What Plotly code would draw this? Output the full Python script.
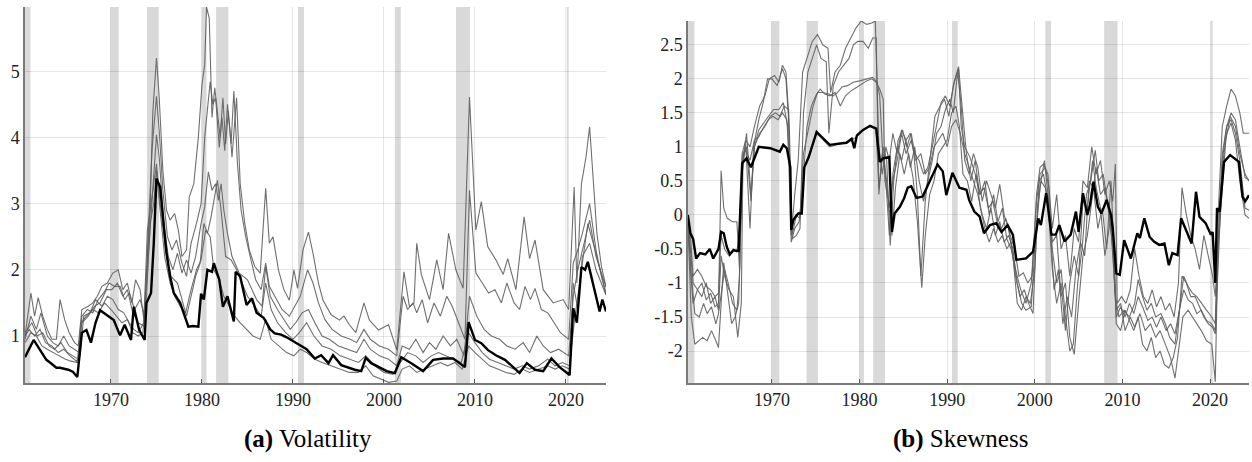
import plotly.graph_objects as go

# ---------------- data ----------------
recessions = [(1960.3, 1961.15), (1969.95, 1970.85), (1973.95, 1975.25), (1980.0, 1980.5),
              (1981.55, 1982.9), (1990.55, 1991.2), (2001.2, 2001.85), (2007.92, 2009.45),
              (2020.1, 2020.3)]

year_ticks = [1970, 1980, 1990, 2000, 2010, 2020]
vol_ticks = [1, 2, 3, 4, 5]
skew_ticks = [-2, -1.5, -1, -0.5, 0, 0.5, 1, 1.5, 2, 2.5]
skew_tick_text = ["-2", "-1.5", "-1", "-0.5", "0", "0.5", "1", "1.5", "2", "2.5"]

# Volatility: bold black aggregate
vol_black = [(1960.55, 0.68), (1961.0, 0.80), (1961.5, 0.94), (1962.2, 0.79), (1962.9, 0.64), (1963.3, 0.60),
    (1963.6, 0.56), (1964.0, 0.52), (1964.4, 0.52), (1965.0, 0.50), (1965.3, 0.49), (1965.8, 0.46),
    (1966.3, 0.38), (1966.8, 1.05), (1967.3, 1.09), (1967.8, 0.90), (1968.3, 1.20), (1968.8, 1.39),
    (1969.5, 1.32), (1970.3, 1.24), (1971.0, 1.01), (1971.5, 1.17), (1972.2, 0.94), (1972.5, 1.44),
    (1973.1, 1.09), (1973.7, 0.94), (1973.9, 1.50), (1974.4, 1.65), (1974.7, 2.40), (1975.0, 3.38),
    (1975.4, 3.25), (1975.8, 2.70), (1976.1, 2.25), (1976.5, 1.90), (1976.9, 1.65), (1977.6, 1.50),
    (1978.0, 1.35), (1978.5, 1.14), (1979.0, 1.15), (1979.6, 1.14), (1979.9, 1.64), (1980.2, 1.55),
    (1980.6, 2.00), (1981.1, 1.97), (1981.3, 2.10), (1981.9, 1.85), (1982.3, 1.44), (1982.8, 1.60),
    (1983.5, 1.22), (1983.7, 1.97), (1984.2, 1.90), (1984.9, 1.47), (1985.5, 1.57), (1986.0, 1.35),
    (1986.8, 1.27), (1987.5, 1.10), (1988.0, 1.04), (1988.7, 1.02), (1989.3, 0.98), (1989.8, 0.94),
    (1990.3, 0.90), (1990.9, 0.84), (1991.5, 0.80), (1992.4, 0.66), (1993.1, 0.71), (1993.9, 0.59),
    (1994.4, 0.71), (1995.3, 0.56), (1996.1, 0.52), (1996.8, 0.49), (1997.5, 0.47), (1998.0, 0.67),
    (1998.6, 0.59), (1999.4, 0.53), (2000.3, 0.47), (2001.2, 0.44), (2001.9, 0.68), (2003.0, 0.59),
    (2004.3, 0.47), (2005.4, 0.64), (2006.5, 0.66), (2007.6, 0.66), (2008.9, 0.53), (2009.3, 1.21),
    (2010.0, 0.94), (2010.7, 0.89), (2011.4, 0.79), (2012.3, 0.71), (2013.3, 0.64), (2014.2, 0.53),
    (2014.9, 0.44), (2015.7, 0.59), (2016.6, 0.49), (2017.5, 0.47), (2018.4, 0.66), (2019.3, 0.53),
    (2020.4, 0.41), (2020.8, 1.42), (2021.2, 1.20), (2021.7, 2.04), (2022.1, 2.00), (2022.4, 2.12),
    (2023.2, 1.65), (2023.7, 1.37), (2024.0, 1.55), (2024.4, 1.37)]

vol_a = [(1960.55, 1.0), (1961.2, 1.65), (1961.6, 1.3), (1962.0, 1.58), (1962.5, 1.3), (1963.0, 1.1),
    (1963.5, 0.95), (1964.0, 0.95), (1964.4, 1.55), (1964.9, 1.25), (1965.4, 1.05), (1966.0, 0.9),
    (1966.4, 0.85), (1966.8, 1.4), (1967.5, 1.45), (1968.0, 1.5), (1968.5, 1.6), (1969.0, 1.75),
    (1969.6, 1.8), (1970.2, 1.95), (1970.8, 2.0), (1971.3, 1.7), (1971.8, 1.8), (1972.3, 1.5),
    (1972.7, 1.85), (1973.2, 1.7), (1973.6, 1.25), (1973.9, 2.0), (1974.3, 2.9), (1974.6, 4.4),
    (1975.0, 5.2), (1975.3, 4.6), (1975.7, 3.5), (1976.1, 2.9), (1976.5, 2.75), (1977.0, 2.85),
    (1977.4, 2.6), (1977.8, 2.2), (1978.3, 2.3), (1978.6, 3.1), (1979.1, 3.3), (1979.6, 4.0),
    (1980.0, 4.8), (1980.3, 5.1), (1980.5, 5.97), (1980.8, 5.8), (1981.1, 4.3), (1981.4, 4.75),
    (1981.7, 4.4), (1982.0, 4.0), (1982.3, 4.6), (1982.6, 3.9), (1982.9, 4.4), (1983.3, 3.7),
    (1983.8, 4.6), (1984.2, 3.3), (1984.7, 2.7), (1985.2, 2.3), (1985.8, 2.05), (1986.4, 1.95),
    (1987.0, 3.23), (1987.4, 2.4), (1987.8, 2.5), (1988.4, 2.0), (1989.0, 1.7), (1989.6, 1.54),
    (1990.1, 2.0), (1990.5, 1.72), (1991.1, 2.3), (1991.7, 2.57), (1992.2, 2.25), (1992.8, 1.8),
    (1993.3, 1.54), (1994.2, 1.32), (1995.1, 1.24), (1995.6, 1.3), (1996.2, 1.17), (1996.9, 1.05),
    (1997.8, 1.5), (1998.4, 1.24), (1999.4, 1.09), (2000.5, 1.17), (2001.4, 0.79), (2002.2, 1.97),
    (2002.8, 1.44), (2003.3, 1.5), (2003.6, 2.4), (2004.1, 1.93), (2005.0, 1.55), (2005.8, 2.15),
    (2006.5, 1.7), (2007.1, 2.55), (2007.9, 2.0), (2008.7, 1.72), (2009.4, 4.61), (2010.1, 2.6),
    (2010.7, 3.03), (2011.4, 2.35), (2012.3, 2.15), (2013.1, 1.93), (2013.6, 2.17), (2014.5, 1.7),
    (2015.4, 2.8), (2016.0, 2.17), (2016.6, 2.45), (2017.5, 1.7), (2018.6, 1.5), (2019.7, 1.55),
    (2020.3, 1.4), (2020.9, 3.25), (2021.2, 1.8), (2021.7, 3.3), (2022.2, 3.7), (2022.6, 4.16),
    (2023.4, 2.55), (2023.9, 2.05), (2024.4, 1.74)]

vol_b = [(1960.55, 0.95), (1961.2, 1.3), (1961.8, 1.1), (1962.3, 1.35), (1963.0, 1.0), (1963.6, 0.9),
    (1964.2, 0.85), (1964.8, 1.0), (1965.4, 0.85), (1966.0, 0.8), (1966.5, 0.75), (1966.8, 1.3),
    (1967.4, 1.4), (1968.0, 1.35), (1968.6, 1.55), (1969.2, 1.65), (1969.8, 1.8), (1970.4, 1.75),
    (1971.0, 1.75), (1971.5, 1.55), (1972.0, 1.65), (1972.6, 1.4), (1973.2, 1.55), (1973.7, 1.3),
    (1974.0, 2.3), (1974.5, 3.8), (1975.0, 4.62), (1975.3, 4.1), (1975.7, 3.2), (1976.2, 2.5),
    (1976.7, 2.3), (1977.2, 2.45), (1977.8, 2.1), (1978.3, 1.9), (1978.8, 2.4), (1979.4, 2.7),
    (1979.9, 3.0), (1980.3, 4.0), (1980.9, 4.84), (1981.2, 4.5), (1981.5, 4.6), (1981.9, 3.85),
    (1982.2, 4.3), (1982.5, 3.8), (1982.8, 4.5), (1983.2, 3.9), (1983.5, 4.7), (1983.9, 3.6),
    (1984.3, 2.9), (1984.8, 2.5), (1985.3, 2.2), (1985.9, 1.85), (1986.5, 1.7), (1987.0, 2.1),
    (1987.4, 1.75), (1988.0, 1.6), (1988.8, 1.4), (1989.6, 1.3), (1990.2, 1.45), (1990.8, 1.6),
    (1991.6, 2.0), (1992.2, 1.8), (1992.8, 1.5), (1993.5, 1.25), (1994.3, 1.1), (1995.3, 1.0),
    (1996.3, 0.95), (1997.0, 0.9), (1997.8, 1.1), (1998.5, 0.95), (1999.5, 0.85), (2000.5, 0.8),
    (2001.4, 0.7), (2002.1, 1.6), (2002.6, 1.4), (2003.2, 1.5), (2003.6, 1.35), (2004.2, 1.55),
    (2004.8, 1.2), (2005.5, 1.5), (2006.2, 1.3), (2006.9, 1.6), (2007.5, 1.45), (2008.2, 1.2),
    (2008.9, 0.95), (2009.4, 3.2), (2010.1, 1.95), (2010.8, 1.8), (2011.5, 1.65), (2012.2, 1.7),
    (2012.9, 1.5), (2013.5, 1.8), (2014.3, 1.5), (2014.9, 1.4), (2015.5, 1.75), (2016.1, 1.55),
    (2016.6, 1.72), (2017.3, 1.4), (2018.0, 1.35), (2018.7, 1.2), (2019.4, 1.05), (2020.3, 0.95),
    (2020.8, 2.1), (2021.3, 2.3), (2021.8, 2.55), (2022.6, 3.0), (2023.3, 2.3), (2023.9, 1.9),
    (2024.4, 1.62)]

vol_c = [(1960.55, 1.05), (1961.3, 1.2), (1961.9, 1.0), (1962.5, 1.05), (1963.2, 0.85), (1963.8, 0.8),
    (1964.5, 0.9), (1965.2, 0.75), (1965.8, 0.7), (1966.4, 0.65), (1966.8, 1.2), (1967.5, 1.3),
    (1968.2, 1.45), (1968.8, 1.5), (1969.5, 1.7), (1970.1, 1.7), (1970.7, 1.8), (1971.3, 1.6),
    (1971.8, 1.7), (1972.4, 1.35), (1973.0, 1.2), (1973.6, 1.15), (1974.0, 2.0), (1974.5, 3.0),
    (1975.0, 4.04), (1975.3, 3.7), (1975.8, 2.7), (1976.3, 2.2), (1976.8, 2.0), (1977.3, 2.25),
    (1977.8, 1.95), (1978.3, 2.15), (1978.8, 1.95), (1979.3, 2.2), (1979.9, 2.7), (1980.3, 2.95),
    (1980.7, 3.48), (1981.1, 3.2), (1981.5, 3.3), (1981.8, 3.05), (1982.1, 3.3), (1982.4, 2.9),
    (1982.8, 2.55), (1983.3, 2.2), (1984.1, 1.95), (1985.0, 1.85), (1986.0, 1.55), (1986.6, 1.45),
    (1987.0, 2.05), (1987.5, 1.6), (1988.3, 1.4), (1989.0, 1.25), (1989.7, 1.1), (1990.3, 1.2),
    (1991.0, 1.35), (1991.7, 1.4), (1992.4, 1.2), (1993.2, 1.0), (1994.0, 0.95), (1995.0, 0.85),
    (1996.0, 0.8), (1997.0, 0.75), (1997.8, 0.95), (1998.5, 0.8), (1999.5, 0.7), (2000.5, 0.65),
    (2001.4, 0.55), (2002.0, 0.85), (2002.8, 0.8), (2003.5, 0.95), (2004.3, 0.75), (2005.0, 0.9),
    (2005.7, 0.8), (2006.5, 1.0), (2007.3, 0.85), (2008.0, 0.95), (2008.8, 0.7), (2009.4, 1.6),
    (2010.2, 1.3), (2011.0, 1.1), (2011.8, 1.0), (2012.7, 0.95), (2013.5, 0.85), (2014.4, 0.8),
    (2015.3, 0.9), (2016.0, 0.75), (2016.8, 1.0), (2017.5, 0.85), (2018.3, 0.75), (2019.2, 0.8),
    (2020.3, 0.7), (2020.8, 1.6), (2021.3, 2.0), (2021.8, 2.3), (2022.6, 2.75), (2023.3, 2.2),
    (2024.4, 1.74)]

vol_d = [(1960.55, 1.0), (1961.0, 1.1), (1961.6, 1.0), (1962.2, 1.1), (1962.8, 0.9), (1963.5, 0.85),
    (1964.2, 0.75), (1964.8, 0.8), (1965.5, 0.7), (1966.2, 0.62), (1966.6, 0.7), (1967.0, 1.3),
    (1967.7, 1.35), (1968.3, 1.55), (1969.0, 1.45), (1969.6, 1.6), (1970.2, 1.55), (1970.8, 1.4),
    (1971.4, 1.35), (1972.0, 1.2), (1972.5, 1.1), (1973.0, 1.05), (1973.6, 1.2), (1974.0, 2.6),
    (1974.6, 3.2), (1975.0, 3.6), (1975.4, 3.0), (1976.0, 2.3), (1976.6, 1.9), (1977.3, 1.8),
    (1977.9, 1.5), (1978.3, 1.3), (1978.8, 1.6), (1979.3, 1.9), (1979.8, 2.1), (1980.2, 2.7),
    (1980.6, 2.55), (1981.0, 2.8), (1981.7, 3.35), (1982.1, 2.9), (1982.6, 2.2), (1983.2, 2.15),
    (1983.8, 2.0), (1984.4, 1.8), (1985.0, 1.6), (1985.8, 1.45), (1986.5, 1.3), (1987.0, 1.8),
    (1987.6, 1.4), (1988.3, 1.2), (1989.2, 1.05), (1990.0, 0.95), (1990.7, 1.05), (1991.5, 1.2),
    (1992.3, 1.0), (1993.2, 0.85), (1994.2, 0.8), (1995.2, 0.7), (1996.2, 0.65), (1997.2, 0.6),
    (1998.0, 0.7), (1999.0, 0.55), (2000.0, 0.45), (2001.0, 0.42), (2001.8, 0.6), (2002.6, 0.75),
    (2003.5, 0.7), (2004.3, 0.6), (2005.2, 0.7), (2006.0, 0.75), (2006.8, 0.7), (2007.6, 0.65),
    (2008.5, 0.6), (2009.3, 1.05), (2010.0, 0.9), (2010.8, 0.75), (2011.6, 0.65), (2012.5, 0.6),
    (2013.4, 0.55), (2014.3, 0.5), (2015.2, 0.55), (2016.0, 0.5), (2017.0, 0.55), (2018.0, 0.65),
    (2018.8, 0.55), (2019.6, 0.6), (2020.4, 0.55), (2020.9, 1.2), (2021.6, 1.9), (2022.4, 2.7),
    (2023.2, 2.3), (2024.4, 1.65)]

vol_e = [(1960.55, 0.9), (1961.2, 1.05), (1961.8, 1.0), (1962.4, 0.85), (1963.0, 0.8), (1963.6, 0.75),
    (1964.3, 0.7), (1965.0, 0.65), (1965.6, 0.62), (1966.3, 0.6), (1966.7, 1.2), (1967.3, 1.3),
    (1968.0, 1.4), (1968.6, 1.35), (1969.3, 1.5), (1970.0, 1.4), (1970.6, 1.3), (1971.2, 1.2),
    (1971.8, 1.25), (1972.4, 1.05), (1973.0, 1.0), (1973.5, 1.05), (1973.9, 1.6), (1974.3, 2.7),
    (1974.7, 3.0), (1975.0, 3.5), (1975.4, 2.9), (1975.9, 2.2), (1976.5, 1.8), (1977.0, 1.6),
    (1977.6, 1.45), (1978.2, 1.35), (1978.8, 1.7), (1979.4, 2.0), (1979.9, 2.15), (1980.4, 2.6),
    (1980.9, 2.5), (1981.3, 2.0), (1981.9, 1.85), (1982.4, 1.6), (1983.0, 1.45), (1983.6, 1.3),
    (1984.2, 1.2), (1984.9, 1.1), (1985.6, 1.0), (1986.4, 0.95), (1987.0, 1.25), (1987.6, 0.95),
    (1988.4, 0.85), (1989.3, 0.75), (1990.1, 0.7), (1990.8, 0.8), (1991.5, 0.75), (1992.4, 0.65),
    (1993.2, 0.6), (1994.2, 0.55), (1995.2, 0.5), (1996.2, 0.45), (1997.2, 0.45), (1998.0, 0.55),
    (1998.8, 0.4), (1999.6, 0.35), (2000.5, 0.3), (2001.4, 0.32), (2002.0, 0.5), (2002.8, 0.55),
    (2003.6, 0.45), (2004.5, 0.5), (2005.4, 0.55), (2006.2, 0.6), (2007.0, 0.55), (2007.8, 0.6),
    (2008.6, 0.5), (2009.3, 0.85), (2010.0, 0.75), (2010.8, 0.65), (2011.6, 0.55), (2012.5, 0.5),
    (2013.4, 0.45), (2014.3, 0.42), (2015.2, 0.5), (2016.0, 0.45), (2017.0, 0.5), (2018.0, 0.55),
    (2018.8, 0.5), (2019.6, 0.55), (2020.4, 0.5), (2020.8, 1.8), (2021.3, 1.4), (2021.8, 2.2),
    (2022.6, 2.4), (2023.3, 2.0), (2024.4, 1.62)]

# Skewness: bold black aggregate
skew_black = [(1960.4, 0.0), (1960.7, -0.27), (1961.0, -0.35), (1961.35, -0.64), (1961.8, -0.56),
    (1962.4, -0.58), (1962.9, -0.5), (1963.3, -0.64), (1963.9, -0.5), (1964.2, -0.25), (1964.5, -0.27),
    (1964.85, -0.47), (1965.2, -0.58), (1965.6, -0.52), (1966.2, -0.53), (1966.6, 0.76), (1967.1, 0.83),
    (1967.6, 0.7), (1968.5, 1.0), (1969.8, 0.98), (1970.9, 0.93), (1971.3, 1.03), (1971.7, 0.98),
    (1972.1, 0.7), (1972.2, -0.22), (1972.45, -0.07), (1973.0, 0.02), (1973.4, 0.02), (1973.7, 0.7),
    (1974.2, 0.85), (1975.1, 1.22), (1975.9, 1.12), (1976.6, 1.03), (1977.8, 1.05), (1978.5, 1.06),
    (1979.1, 1.12), (1979.4, 0.98), (1979.7, 1.17), (1980.4, 1.25), (1981.2, 1.31), (1981.9, 1.27),
    (1982.3, 0.78), (1982.7, 0.83), (1983.4, 0.85), (1983.7, -0.25), (1984.0, 0.02), (1984.6, 0.12),
    (1985.1, 0.25), (1985.5, 0.4), (1985.9, 0.42), (1986.5, 0.25), (1987.2, 0.27), (1988.0, 0.49),
    (1988.9, 0.74), (1989.5, 0.64), (1989.9, 0.29), (1990.6, 0.62), (1991.4, 0.4), (1992.2, 0.37),
    (1992.5, 0.22), (1993.1, 0.05), (1993.7, -0.02), (1994.2, -0.27), (1994.9, -0.15), (1995.6, -0.12),
    (1996.2, -0.25), (1996.9, -0.15), (1997.5, -0.29), (1997.9, -0.66), (1999.0, -0.64), (1999.8, -0.54),
    (2000.4, -0.05), (2000.7, -0.15), (2001.3, 0.32), (2001.9, -0.29), (2002.4, -0.29), (2002.8, -0.15),
    (2003.4, -0.39), (2004.1, -0.29), (2004.7, 0.05), (2005.0, -0.25), (2005.5, 0.32), (2006.0, 0.0),
    (2006.3, 0.15), (2006.7, 0.49), (2007.2, 0.12), (2007.6, 0.02), (2008.2, 0.22), (2008.7, 0.0),
    (2008.9, -0.2), (2009.3, -0.86), (2009.7, -0.88), (2010.2, -0.37), (2010.96, -0.64), (2011.7, -0.27),
    (2012.0, -0.34), (2012.5, -0.05), (2013.1, -0.32), (2013.6, -0.39), (2014.2, -0.44), (2014.8, -0.42),
    (2015.3, -0.74), (2015.7, -0.56), (2016.3, -0.59), (2016.7, -0.05), (2017.2, -0.2), (2017.9, -0.42),
    (2018.4, 0.34), (2018.8, -0.03), (2019.5, -0.12), (2020.1, -0.29), (2020.3, -0.25), (2020.6, -1.0),
    (2020.8, 0.1), (2021.1, 0.05), (2021.6, 0.78), (2022.3, 0.88), (2023.3, 0.78), (2023.7, 0.27),
    (2024.0, 0.2), (2024.45, 0.29)]

skew_a = [(1960.4, 0.0), (1960.7, -0.8), (1961.0, -1.3), (1961.5, -1.1), (1962.0, -1.0), (1962.5, -1.25),
    (1963.0, -1.15), (1963.5, -1.35), (1963.9, -1.3), (1964.2, 0.65), (1964.5, 0.1), (1964.9, -0.05),
    (1965.5, -0.1), (1966.0, -0.1), (1966.3, -0.8), (1966.6, 0.9), (1967.0, 1.1), (1967.5, 1.0),
    (1968.0, 1.3), (1968.6, 1.6), (1969.2, 1.75), (1969.7, 2.0), (1970.3, 2.05), (1970.8, 1.95),
    (1971.2, 2.2), (1971.6, 2.1), (1971.9, 1.5), (1972.2, -0.3), (1972.6, 0.3), (1973.0, 0.8),
    (1973.5, 2.1), (1974.0, 2.3), (1974.6, 2.55), (1975.2, 2.65), (1975.8, 2.5), (1976.4, 2.45),
    (1976.7, 1.8), (1977.2, 2.1), (1977.8, 2.2), (1978.4, 2.45), (1979.0, 2.6), (1979.6, 2.75),
    (1980.2, 2.85), (1980.8, 2.8), (1981.4, 2.82), (1981.8, 2.85), (1982.2, 1.0), (1982.6, 0.6),
    (1983.0, 1.0), (1983.4, 0.8), (1983.8, 1.2), (1984.3, 0.9), (1984.8, 1.25), (1985.3, 1.1),
    (1985.8, 1.2), (1986.2, 0.9), (1986.6, 0.3), (1987.0, -0.9), (1987.5, 0.2), (1988.0, 0.8),
    (1988.6, 1.45), (1989.2, 1.6), (1989.7, 1.7), (1990.2, 1.45), (1990.7, 1.9), (1991.3, 2.15),
    (1991.6, 1.3), (1992.0, 1.0), (1992.6, 0.85), (1993.2, 0.6), (1993.8, 0.3), (1994.3, 0.5),
    (1994.8, 0.0), (1995.3, 0.3), (1995.8, -0.1), (1996.3, 0.1), (1996.8, -0.35), (1997.3, -0.5),
    (1997.8, -0.8), (1998.4, -1.1), (1999.0, -1.3), (1999.6, -1.0), (2000.2, 0.2), (2000.6, 0.6),
    (2001.2, 0.7), (2001.6, 0.4), (2002.0, -0.5), (2002.5, -1.0), (2003.0, -0.8), (2003.5, -1.5),
    (2004.0, -2.0), (2004.4, -1.9), (2004.9, -1.0), (2005.4, -0.5), (2005.9, 0.3), (2006.4, 0.5),
    (2006.9, 0.95), (2007.3, 0.5), (2007.8, 0.6), (2008.3, 0.2), (2008.7, -0.2), (2009.2, -1.2),
    (2009.6, -1.5), (2010.2, -1.4), (2010.8, -1.5), (2011.4, -1.3), (2011.8, -0.95), (2012.3, -1.2),
    (2012.8, -1.4), (2013.3, -1.3), (2013.8, -1.5), (2014.4, -1.45), (2014.9, -1.6), (2015.4, -1.8),
    (2016.0, -1.9), (2016.6, -1.3), (2017.0, -0.9), (2017.5, -1.05), (2018.0, -1.15), (2018.5, -1.2),
    (2019.0, -1.3), (2019.6, -1.4), (2020.2, -1.5), (2020.6, -1.6), (2021.0, 0.2), (2021.4, 1.3),
    (2021.9, 1.6), (2022.4, 1.85), (2022.9, 1.75), (2023.4, 1.5), (2023.8, 1.2), (2024.45, 1.2)]

skew_b = [(1960.4, -0.1), (1960.8, -1.5), (1961.2, -1.9), (1961.6, -1.85), (1962.1, -1.8), (1962.6, -1.85),
    (1963.1, -1.7), (1963.6, -1.85), (1963.9, -1.95), (1964.2, -1.3), (1964.5, -0.7), (1965.0, -1.2),
    (1965.4, -1.6), (1965.8, -1.5), (1966.2, -1.3), (1966.6, 0.6), (1967.0, 1.05), (1967.5, -0.2),
    (1967.9, 1.0), (1968.5, 1.4), (1969.0, 1.65), (1969.5, 2.0), (1970.0, 2.0), (1970.6, 1.9),
    (1971.2, 2.15), (1971.6, 2.0), (1972.0, 1.2), (1972.3, -0.35), (1972.8, -0.3), (1973.2, -0.2),
    (1973.6, 1.5), (1974.1, 2.1), (1974.6, 2.3), (1975.1, 2.5), (1975.6, 2.3), (1976.2, 2.25),
    (1976.5, 1.2), (1977.0, 1.9), (1977.6, 2.1), (1978.2, 2.2), (1978.8, 2.3), (1979.3, 2.5),
    (1979.8, 2.55), (1980.4, 2.55), (1981.0, 2.45), (1981.5, 2.6), (1981.9, 2.6), (1982.2, 0.3),
    (1982.6, 0.9), (1983.0, 0.5), (1983.4, -0.3), (1983.8, 0.6), (1984.3, 1.0), (1984.8, 0.8),
    (1985.3, 1.1), (1985.8, 0.7), (1986.3, 1.0), (1986.8, 0.5), (1987.3, 0.2), (1987.8, 0.5),
    (1988.3, 0.8), (1988.8, 1.2), (1989.3, 1.3), (1989.8, 1.55), (1990.3, 1.7), (1990.7, 1.5),
    (1991.2, 2.1), (1991.6, 1.6), (1992.0, 0.8), (1992.5, 0.6), (1993.0, 0.9), (1993.5, 0.7),
    (1994.0, 0.2), (1994.5, 0.5), (1995.0, 0.3), (1995.5, 0.1), (1996.0, 0.45), (1996.5, 0.0),
    (1997.0, -0.2), (1997.5, -0.6), (1998.0, -1.3), (1998.5, -1.4), (1999.0, -1.2), (1999.5, -1.3),
    (2000.0, -0.8), (2000.5, 0.5), (2001.0, 0.6), (2001.5, 0.2), (2002.0, -0.8), (2002.5, -1.3),
    (2003.0, -1.0), (2003.5, -1.7), (2004.0, -1.0), (2004.5, -0.6), (2005.0, -0.9), (2005.5, 0.2),
    (2006.0, 0.1), (2006.6, 0.8), (2007.0, 0.4), (2007.5, 0.1), (2008.0, -0.6), (2008.6, -0.1),
    (2008.9, -0.3), (2009.3, -1.4), (2009.8, -1.3), (2010.3, -1.7), (2010.9, -1.5), (2011.4, -1.65),
    (2012.0, -1.45), (2012.6, -1.7), (2013.2, -1.6), (2013.8, -1.8), (2014.3, -1.7), (2014.9, -1.9),
    (2015.5, -2.1), (2016.0, -2.4), (2016.4, -2.0), (2016.9, -1.5), (2017.5, -1.4), (2018.0, -1.5),
    (2018.5, -1.6), (2019.0, -1.7), (2019.6, -1.85), (2020.2, -1.9), (2020.6, -2.45), (2020.9, -0.5),
    (2021.3, 0.2), (2021.8, 1.1), (2022.3, 1.45), (2022.9, 1.3), (2023.4, 0.9), (2024.0, 0.6),
    (2024.45, 0.5)]

skew_c = [(1960.4, -0.1), (1960.8, -0.9), (1961.2, -1.45), (1961.7, -1.5), (1962.2, -1.3), (1962.6, -1.45),
    (1963.1, -1.35), (1963.6, -1.6), (1963.9, -1.45), (1964.2, -1.2), (1964.6, -0.8), (1965.0, -1.0),
    (1965.5, -1.3), (1966.0, -1.4), (1966.3, -0.9), (1966.6, 0.7), (1967.1, 1.2), (1967.6, 0.3),
    (1968.0, 1.0), (1968.6, 1.2), (1969.2, 1.3), (1969.8, 1.45), (1970.4, 1.5), (1970.9, 1.45),
    (1971.4, 1.6), (1971.9, 1.55), (1972.2, -0.2), (1972.7, 0.0), (1973.2, -0.05), (1973.6, 0.9),
    (1974.2, 1.3), (1974.7, 1.6), (1975.2, 1.8), (1975.8, 1.8), (1976.4, 1.78), (1977.0, 1.75),
    (1977.5, 1.8), (1978.0, 1.88), (1978.6, 1.9), (1979.3, 1.95), (1980.0, 1.97), (1980.8, 2.0),
    (1981.5, 2.02), (1982.0, 1.95), (1982.3, 1.75), (1982.6, 1.0), (1983.0, 0.6), (1983.4, 0.1),
    (1983.8, 0.5), (1984.3, 0.8), (1984.8, 1.2), (1985.3, 0.9), (1985.9, 1.1), (1986.4, 0.8),
    (1987.0, 0.9), (1987.5, 0.6), (1988.0, 0.7), (1988.5, 1.0), (1989.0, 1.1), (1989.5, 1.2),
    (1990.0, 1.0), (1990.5, 1.3), (1991.0, 1.4), (1991.5, 1.2), (1992.0, 0.9), (1992.5, 0.7),
    (1993.0, 0.5), (1993.5, 0.3), (1994.0, 0.0), (1994.5, -0.2), (1995.0, 0.1), (1995.5, -0.3),
    (1996.0, -0.1), (1996.5, -0.4), (1997.0, -0.3), (1997.5, -0.5), (1998.0, -1.0), (1998.5, -1.3),
    (1999.0, -1.4), (1999.6, -1.35), (2000.1, -0.3), (2000.6, 0.4), (2001.1, 0.8), (2001.6, 0.2),
    (2002.0, -0.4), (2002.5, -0.3), (2003.0, -1.2), (2003.5, -1.0), (2004.0, -1.8), (2004.5, -2.05),
    (2005.0, -1.3), (2005.5, -0.6), (2006.0, -0.3), (2006.5, 0.2), (2007.0, 0.7), (2007.5, 0.3),
    (2008.0, 0.4), (2008.5, 0.0), (2008.9, -0.5), (2009.3, -1.5), (2009.8, -1.35), (2010.3, -1.5),
    (2010.8, -1.3), (2011.3, -1.45), (2011.8, -1.2), (2012.3, -1.35), (2012.9, -1.55), (2013.4, -1.5),
    (2013.9, -1.65), (2014.4, -1.5), (2015.0, -1.7), (2015.5, -1.6), (2016.0, -1.75), (2016.5, -1.4),
    (2017.0, -1.1), (2017.5, -1.25), (2018.0, -1.3), (2018.5, -1.45), (2019.0, -1.4), (2019.6, -1.55),
    (2020.2, -1.6), (2020.6, -1.7), (2021.0, -0.2), (2021.4, 0.9), (2021.9, 1.3), (2022.4, 1.4),
    (2022.9, 1.2), (2023.4, 0.8), (2024.0, 0.1), (2024.45, 0.07)]

skew_d = [(1960.4, 0.0), (1960.7, -0.5), (1961.0, -1.0), (1961.5, -1.1), (1962.0, -1.2), (1962.5, -1.0),
    (1963.0, -1.3), (1963.5, -1.2), (1963.9, -1.4), (1964.2, -0.6), (1964.6, -0.9), (1965.1, -1.1),
    (1965.6, -1.2), (1966.1, -1.8), (1966.5, -1.3), (1966.7, 0.9), (1967.1, 1.0), (1967.6, 0.2),
    (1968.0, 1.0), (1968.5, 1.25), (1969.0, 1.35), (1969.6, 1.45), (1970.2, 1.55), (1970.8, 1.55),
    (1971.3, 1.65), (1971.8, 1.3), (1972.2, -0.4), (1972.6, -0.2), (1973.1, -0.1), (1973.5, 0.4),
    (1974.0, 1.3), (1974.5, 1.6), (1975.0, 1.75), (1975.5, 1.85), (1976.0, 1.78), (1976.6, 1.75),
    (1977.2, 1.8), (1977.8, 1.6), (1978.4, 1.75), (1979.0, 1.82), (1979.6, 1.87), (1980.2, 1.92),
    (1980.8, 1.97), (1981.4, 2.0), (1981.9, 1.95), (1982.3, 1.85), (1982.7, 1.7), (1982.9, 0.5),
    (1983.3, 0.2), (1983.7, -0.3), (1984.1, 0.4), (1984.6, 0.9), (1985.1, 0.6), (1985.6, 0.9),
    (1986.1, 0.55), (1986.6, -0.1), (1987.1, -1.07), (1987.5, -0.3), (1988.0, 0.3), (1988.5, 0.5),
    (1989.0, 0.9), (1989.5, 1.0), (1990.0, 1.1), (1990.5, 1.5), (1991.0, 1.6), (1991.4, 1.3),
    (1991.8, 0.6), (1992.3, 0.5), (1992.8, 0.2), (1993.3, 0.6), (1993.8, 0.1), (1994.3, -0.2),
    (1994.8, -0.4), (1995.3, -0.2), (1995.8, -0.4), (1996.3, -0.3), (1996.8, -0.5), (1997.3, -0.4),
    (1997.8, -0.9), (1998.3, -1.2), (1998.8, -1.1), (1999.3, -1.3), (1999.8, -1.45), (2000.3, 0.1),
    (2000.7, 0.5), (2001.2, 0.4), (2001.7, 0.0), (2002.2, -1.1), (2002.7, -0.8), (2003.2, -1.6),
    (2003.7, -1.2), (2004.2, -1.5), (2004.7, -0.8), (2005.2, -0.4), (2005.7, -0.6), (2006.2, 0.5),
    (2006.7, 0.4), (2007.2, -0.2), (2007.7, 0.1), (2008.2, -0.5), (2008.7, 0.5), (2009.0, -0.4),
    (2009.3, -1.6), (2009.8, -1.7), (2010.3, -1.4), (2010.8, -1.55), (2011.3, -1.7), (2011.8, -1.5),
    (2012.3, -1.9), (2012.8, -2.0), (2013.3, -1.8), (2013.8, -2.1), (2014.3, -2.0), (2014.8, -2.2),
    (2015.3, -2.25), (2015.8, -2.1), (2016.3, -1.8), (2016.8, -0.9), (2017.3, -1.0), (2017.8, -1.2),
    (2018.3, -1.2), (2018.8, -1.35), (2019.3, -1.5), (2019.8, -1.6), (2020.3, -1.65), (2020.6, -1.75),
    (2021.0, -0.6), (2021.4, 0.7), (2021.9, 1.2), (2022.4, 1.35), (2022.9, 1.1), (2023.4, 0.5),
    (2024.0, 0.0), (2024.45, -0.05)]

skew_e = [(1960.4, 0.0), (1960.7, -0.3), (1961.0, -0.9), (1961.5, -0.8), (1962.0, -0.9), (1962.5, -1.05),
    (1963.0, -1.1), (1963.5, -1.2), (1963.9, -1.15), (1964.2, -0.3), (1964.6, -0.5), (1965.1, -0.6),
    (1965.6, -0.5), (1966.0, -0.55), (1966.3, -0.2), (1966.6, 0.85), (1967.0, 0.95), (1967.5, 0.8),
    (1968.0, 1.1), (1968.5, 1.15), (1969.1, 1.3), (1969.6, 1.4), (1970.1, 1.45), (1970.7, 1.4),
    (1971.2, 1.5), (1971.7, 1.4), (1972.0, 0.8), (1972.3, -0.3), (1972.8, 0.0), (1973.3, 0.05),
    (1973.7, 0.7), (1974.3, 0.9), (1975.1, 1.2), (1975.9, 1.1), (1976.6, 1.0), (1977.8, 1.05),
    (1978.5, 1.05), (1979.1, 1.1), (1979.7, 1.15), (1980.4, 1.25), (1981.2, 1.3), (1981.9, 1.25),
    (1982.2, 0.4), (1982.7, 1.0), (1983.1, 0.8), (1983.5, -0.45), (1983.9, 0.5), (1984.4, 1.1),
    (1984.9, 1.25), (1985.4, 1.0), (1985.9, 1.2), (1986.3, 0.9), (1986.8, 0.8), (1987.3, 0.6),
    (1987.8, 0.7), (1988.3, 1.0), (1988.8, 1.3), (1989.3, 1.65), (1989.8, 1.75), (1990.3, 1.6),
    (1990.8, 1.95), (1991.3, 2.18), (1991.7, 1.6), (1992.2, 0.9), (1992.7, 0.5), (1993.2, 0.8),
    (1993.7, 0.3), (1994.2, 0.4), (1994.7, 0.1), (1995.2, 0.2), (1995.7, -0.1), (1996.2, -0.2),
    (1996.7, -0.05), (1997.2, -0.3), (1997.7, -0.5), (1998.2, -0.9), (1998.7, -0.85), (1999.2, -1.0),
    (1999.7, -0.9), (2000.2, 0.3), (2000.6, 0.7), (2001.0, 0.75), (2001.5, 0.6), (2002.0, -0.2),
    (2002.5, 0.3), (2003.0, -0.5), (2003.5, -0.3), (2004.0, -0.9), (2004.5, -0.2), (2005.0, -0.4),
    (2005.5, 0.5), (2006.0, 0.4), (2006.5, 1.0), (2007.0, 0.6), (2007.5, 0.8), (2008.0, 0.3),
    (2008.5, 0.5), (2008.9, 0.2), (2009.2, 0.75), (2009.4, -1.3), (2009.9, -1.2), (2010.4, -1.3),
    (2010.9, -1.1), (2011.4, -0.5), (2011.9, -0.9), (2012.4, -1.2), (2012.9, -1.3), (2013.4, -1.1),
    (2013.9, -1.35), (2014.4, -1.2), (2014.9, -1.4), (2015.4, -1.3), (2015.9, -1.5), (2016.4, -1.0),
    (2016.8, 0.4), (2017.3, 0.0), (2017.8, -0.3), (2018.3, -0.5), (2018.8, -0.8), (2019.3, -0.3),
    (2019.8, -0.6), (2020.3, -0.9), (2020.6, -1.2), (2021.0, -0.3), (2021.4, 0.8), (2021.9, 1.3),
    (2022.4, 1.5), (2022.9, 1.4), (2023.4, 1.0), (2024.0, 0.55), (2024.45, 0.51)]

vol_gray_series = [vol_a, vol_b, vol_c, vol_d, vol_e]
skew_gray_series = [skew_a, skew_b, skew_c, skew_d, skew_e]

# ---------------- figure ----------------
W, H = 1252, 462
FONT = "'Liberation Serif', 'DejaVu Serif', serif"
GRAY = "rgba(95,95,95,0.9)"

fig = go.Figure()

def add_series(series_list, black, xa, ya):
    for s in series_list:
        fig.add_trace(go.Scatter(x=[p[0] for p in s], y=[p[1] for p in s], mode="lines",
                                 line=dict(color=GRAY, width=1.1), xaxis=xa, yaxis=ya,
                                 showlegend=False, hoverinfo="skip"))
    fig.add_trace(go.Scatter(x=[p[0] for p in black], y=[p[1] for p in black], mode="lines",
                             line=dict(color="black", width=2.4), xaxis=xa, yaxis=ya,
                             showlegend=False, hoverinfo="skip"))

add_series(vol_gray_series, vol_black, "x", "y")
add_series(skew_gray_series, skew_black, "x2", "y2")

shapes = []
for xr, yr in (("x", "y"), ("x2", "y2")):
    for a, b in recessions:
        shapes.append(dict(type="rect", xref=xr, yref=yr + " domain", x0=a, x1=b, y0=0, y1=1,
                           fillcolor="#d9d9d9", line=dict(width=0), layer="below"))
fig.update_layout(shapes=shapes)

axis_common = dict(showline=True, linecolor="#7a7a7a", linewidth=1.5, mirror=False,
                   showgrid=True, gridcolor="rgba(0,0,0,0.10)", gridwidth=1, zeroline=False,
                   tickfont=dict(family=FONT, size=18, color="#222"))

fig.update_layout(
    width=W, height=H,
    margin=dict(l=0, r=0, t=0, b=0),
    font=dict(family=FONT, size=18, color="#222"),
    paper_bgcolor="white", plot_bgcolor="white",
    xaxis=dict(domain=[25 / W, 606 / W], range=[1960.55, 2024.4], anchor="y",
               tickvals=year_ticks, ticks="inside", ticklen=4, tickcolor="#555", **axis_common),
    yaxis=dict(domain=[(H - 383) / H, (H - 7) / H], range=[0.29, 5.97], anchor="x",
               tickvals=vol_ticks, ticks="", **axis_common),
    xaxis2=dict(domain=[688 / W, 1249 / W], range=[1960.42, 2024.45], anchor="y2",
                tickvals=year_ticks, ticks="inside", ticklen=4, tickcolor="#555", **axis_common),
    yaxis2=dict(domain=[(H - 383) / H, (H - 21) / H], range=[-2.47, 2.85], anchor="x2",
                tickvals=skew_ticks, ticktext=skew_tick_text, ticks="", **axis_common),
    annotations=[
        dict(text="<b>(a)</b> Volatility", x=308 / W, y=(H - 439) / H, xref="paper", yref="paper",
             showarrow=False, font=dict(family=FONT, size=25, color="black"), xanchor="center", yanchor="middle"),
        dict(text="<b>(b)</b> Skewness", x=960 / W, y=(H - 439) / H, xref="paper", yref="paper",
             showarrow=False, font=dict(family=FONT, size=25, color="black"), xanchor="center", yanchor="middle"),
    ],
)

fig.write_html("out.html")
